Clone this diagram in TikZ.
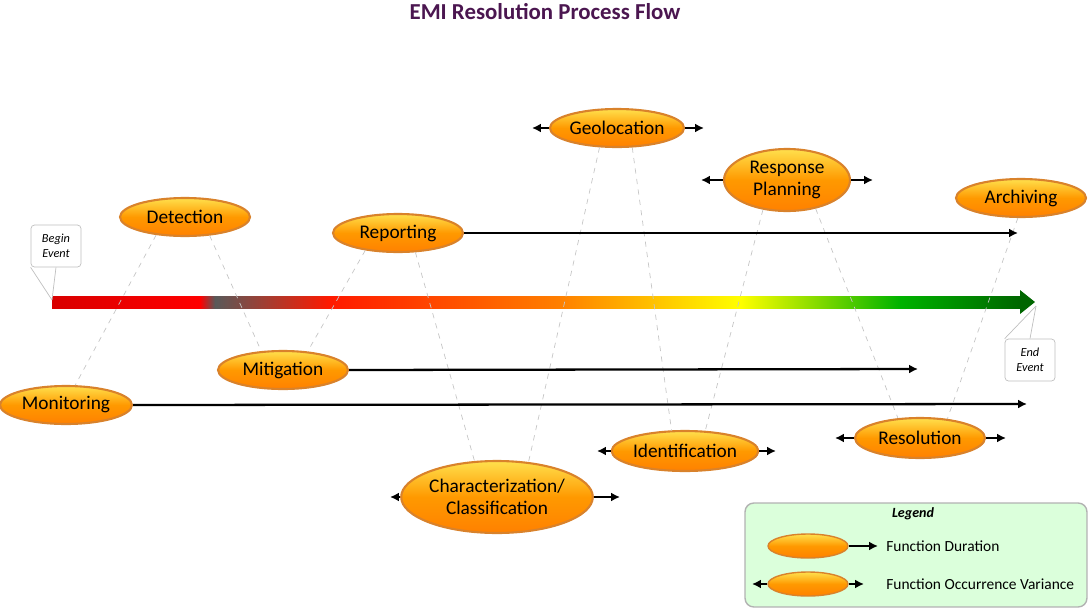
\documentclass[tikz,border=0pt]{standalone}
\usepackage{fontspec}
\setmainfont{Carlito}
\usetikzlibrary{shapes.geometric, arrows.meta}
\definecolor{titlepurple}{HTML}{4B1650}
\definecolor{ringorange}{HTML}{D9822B}
\tikzset{
func/.style={shape=ellipse, draw=ringorange, line width=1.2pt, inner sep=0, top color=orange!35!yellow!70!white, bottom color=orange!90!red!90!yellow, middle color=orange!80!yellow, font=\fontsize{11}{12.5}\selectfont, align=center},
dur/.style={-{Latex[length=5pt, width=5pt]}, line width=1.3pt},
tie/.style={gray!45, dashed, line width=0.4pt},
event/.style={draw=gray!50, rounded corners=2pt, fill=white, font=\fontsize{7}{8.5}\selectfont\itshape, align=center, minimum width=1cm, minimum height=0.84cm}}
\begin{document}
\begin{tikzpicture}[x=0.02cm, y=-0.02cm]
\useasboundingbox (0,0) rectangle (1090,609);
\node [font=\fontsize{13}{15}\selectfont\bfseries, text=titlepurple] (title) at (545,12) {EMI Resolution Process Flow};

% time bar
\shade [left color=red!85!black, right color=red] (52,296) rectangle (200,308);
\shade [left color=red, right color=gray!70!black] (200,296) rectangle (215,308);
\shade [left color=gray!70!black, right color=red!80!orange] (215,296) rectangle (330,308);
\shade [left color=red!80!orange, right color=orange] (330,296) rectangle (560,308);
\shade [left color=orange, right color=yellow] (560,296) rectangle (740,308);
\shade [left color=yellow, right color=green!70!black] (740,296) rectangle (900,308);
\shade [left color=green!70!black, right color=green!40!black] (900,296) rectangle (1020,308);
\fill [green!40!black] (1020,290) -- (1035,302) -- (1020,314) -- cycle;
\coordinate (bar-start) at (52,300);
\coordinate (bar-end) at (1036,306);

\node [event] (begin) at (56,246) {Begin\\Event};
\draw [gray!50] (begin.south west) -- (bar-start);
\draw [gray!50] (begin.south) -- (bar-start);
\node [event] (end) at (1030,360) {End\\Event};
\draw [gray!50] (end.north) -- (bar-end);
\draw [gray!50] (end.north west) -- (bar-end);

% functions
\node [func, minimum width=2.6cm, minimum height=0.76cm] (det) at (185,217) {Detection};
\node [func, minimum width=2.6cm, minimum height=0.76cm] (rep) at (398,233) {Reporting};
\node [func, minimum width=2.6cm, minimum height=0.76cm] (geo) at (617,128) {Geolocation};
\node [func, minimum width=2.52cm, minimum height=1.24cm] (plan) at (787,180) {Response\\Planning};
\node [func, minimum width=2.6cm, minimum height=0.76cm] (arch) at (1021,198) {Archiving};
\node [func, minimum width=2.6cm, minimum height=0.76cm] (mit) at (283,370) {Mitigation};
\node [func, minimum width=2.64cm, minimum height=0.76cm] (mon) at (66,405) {Monitoring};
\node [func, minimum width=2.72cm, minimum height=0.8cm] (ident) at (685,451) {Identification};
\node [func, minimum width=2.6cm, minimum height=0.8cm] (res) at (920,438) {Resolution};
\node [func, minimum width=3.52cm, minimum height=1.44cm] (char) at (497,497) {Characterization/\\Classification};

% ties
\draw [tie] (det.212) -- (mon.65);
\draw [tie] (det.323) -- (mit.139);
\draw [tie] (rep.208) -- (mit.37);
\draw [tie] (rep.312) -- (char.122);
\draw [tie] (geo.228) -- (char.48);
\draw [tie] (geo.308) -- (ident.123);
\draw [tie] (plan.231) -- (ident.45);
\draw [tie] (plan.315) -- (res.138);
\draw [tie] (arch.261) -- (res.35);

% durations
\coordinate (rep-end) at (1018,233);
\coordinate (mit-end) at (918,369);
\coordinate (mon-end) at (1027,404);
\draw [dur] (rep.east) -- (rep-end);
\draw [dur] (mit.east) -- (mit-end);
\draw [dur] (mon.east) -- (mon-end);

% variance
\foreach \n/\l/\r in {geo/532/704, plan/701/873, ident/597/776, res/835/1006, char/390/620}{
  \coordinate (\n-l) at (\l,0 |- \n.west);
  \coordinate (\n-r) at (\r,0 |- \n.east);
  \draw [dur] (\n.west) -- (\n-l);
  \draw [dur] (\n.east) -- (\n-r);
}

% legend
\node [draw=gray!60, line width=0.8pt, fill=green!14, rounded corners=5pt, minimum width=6.84cm, minimum height=2.08cm] (legend) at (916,555) {};
\node [font=\fontsize{8}{10}\selectfont\bfseries\itshape] (legend-title) at (913,514) {Legend};
\node [func, minimum width=1.6cm, minimum height=0.48cm, line width=0.8pt] (ldur) at (808,546) {};
\node [func, minimum width=1.6cm, minimum height=0.48cm, line width=0.8pt] (lvar) at (808,584) {};
\coordinate (ldur-r) at (878,546);
\coordinate (lvar-l) at (752,584);
\coordinate (lvar-r) at (864,584);
\draw [dur] (ldur.east) -- (ldur-r);
\draw [dur] (lvar.west) -- (lvar-l);
\draw [dur] (lvar.east) -- (lvar-r);
\node [anchor=west, inner sep=0, font=\fontsize{8.8}{10.5}\selectfont] (ldur-text) at (886,546) {Function Duration};
\node [anchor=west, inner sep=0, font=\fontsize{8.8}{10.5}\selectfont] (lvar-text) at (886,584) {Function Occurrence Variance};
\end{tikzpicture}
\end{document}
